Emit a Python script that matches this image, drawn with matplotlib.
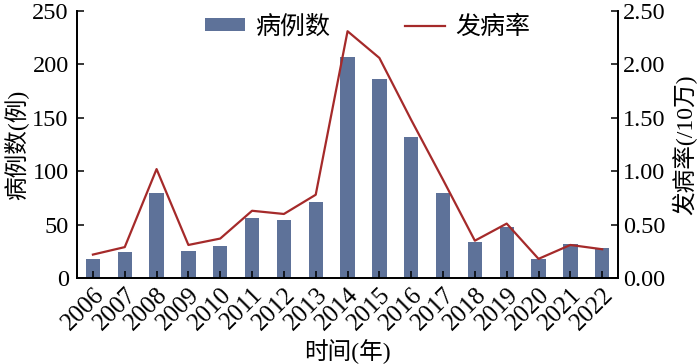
import numpy as np
import matplotlib
matplotlib.use('Agg')
import matplotlib.pyplot as plt

# font: numeri in serif, cinese in Noto Sans CJK
plt.rcParams['font.family'] = ['Liberation Serif', 'Noto Sans CJK SC']
plt.rcParams['axes.unicode_minus'] = False

######## dati
anni = ['2006', '2007', '2008', '2009', '2010', '2011', '2012', '2013', '2014',
        '2015', '2016', '2017', '2018', '2019', '2020', '2021', '2022']
casi = [18, 24, 80, 25, 30, 56, 54, 71, 207, 186, 132, 80, 34, 48, 18, 32, 28]
incidenza = [0.22, 0.29, 1.02, 0.31, 0.37, 0.63, 0.60, 0.78, 2.31, 2.06,
             1.48, 0.92, 0.35, 0.51, 0.18, 0.31, 0.27]

col_barre = '#5e7299'
col_linea = '#a52a2a'

x = np.arange(len(anni))

fig = plt.figure(figsize=(7, 3.64), dpi=100)
ax = fig.add_axes([0.11, 0.236, 0.773, 0.734])
ax2 = ax.twinx()

barre = ax.bar(x, casi, width=0.45, color=col_barre, label='病例数')
linea, = ax2.plot(x, incidenza, color=col_linea, lw=1.6, label='发病率')

ax.set_xlim(-0.5, len(anni) - 0.5)
ax.set_ylim(0, 250)
ax2.set_ylim(0, 2.5)
ax.set_yticks([0, 50, 100, 150, 200, 250])
ax2.set_yticks([0, 0.5, 1.0, 1.5, 2.0, 2.5])
ax2.set_yticklabels(['0.00', '0.50', '1.00', '1.50', '2.00', '2.50'])

ax.set_xticks(x)
ax.set_xticklabels(anni, rotation=45, ha='right', rotation_mode='anchor')

for a in (ax, ax2):
    a.spines['top'].set_visible(False)
    for s in a.spines.values():
        s.set_linewidth(1.3)
    a.tick_params(direction='in', length=5, width=1.1, labelsize=17.5)
ax.tick_params(axis='x', pad=4, labelsize=18)
ax.tick_params(axis='y', pad=6)

ax.set_xlabel('时间(年)', fontsize=17, labelpad=3)
ax.set_ylabel('病例数(例)', fontsize=17, labelpad=3)
ax2.set_ylabel('发病率(/10万)', fontsize=17, labelpad=5)

fig.legend(handles=[barre, linea], loc='upper center', bbox_to_anchor=(0.525, 1.02),
           ncol=2, frameon=False, fontsize=18, handlelength=1.6, handleheight=0.45,
           columnspacing=3.0, handletextpad=0.4)

fig.savefig('out.png', dpi=100)
